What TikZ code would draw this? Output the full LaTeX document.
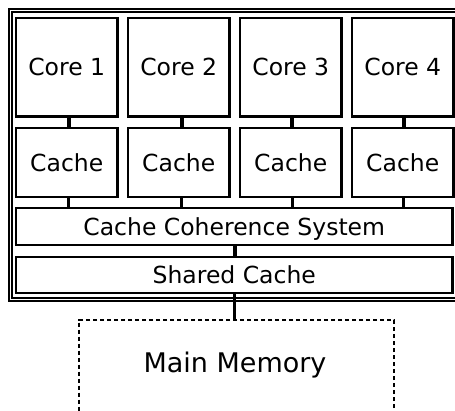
\documentclass[tikz,border=0pt]{standalone}
\usepackage{fontspec}
\setmainfont{DejaVu Sans}
\begin{document}
\begin{tikzpicture}[x=1pt,y=-1pt,
  box/.style={draw=black, line width=2.2pt, fill=white, inner sep=0pt,
    font=\fontsize{23.5}{28}\selectfont, text height=17.1pt, text depth=0pt},
  memorybox/.style={draw=black, line width=2pt, dash pattern=on 4.5pt off 2.5pt,
    inner sep=0pt},
  frame/.style={draw=black, line width=1.5pt, double, double distance=1.8pt},
  link/.style={draw=black, line width=4pt},
  thinlink/.style={draw=black, line width=3.2pt}]
\useasboundingbox (0,0) rectangle (455,410);
\clip (0,0) rectangle (455,410);

% outer package frame
\path[frame] (10.5,10.5) rectangle (458.5,299.5);

% cores and their private caches
\foreach \i in {1,...,4} {
  \pgfmathsetmacro{\cx}{66.75+112*(\i-1)}
  \node[box, minimum width=101.5pt, minimum height=98.7pt] (core\i) at (\cx,67.15) {Core \i};
  \node[box, minimum width=101.5pt, minimum height=69pt] (cache\i) at (\cx,162.5) {Cache};
}

\node[box, minimum width=436.5pt, minimum height=37pt] (coh) at (234.25,226.5) {Cache Coherence System};
\node[box, minimum width=436.5pt, minimum height=36pt] (shared) at (234.25,275) {Shared Cache};

% main memory (extends below the picture)
\node[memorybox, minimum width=314.5pt, minimum height=110pt, anchor=north] (mem) at (236.25,318.5) {};
\node[font=\fontsize{27}{32}\selectfont, anchor=base, inner sep=0pt] (memtext) at (235,372) {Main Memory};

% interconnects
\foreach \i/\dx in {1/2, 2/3, 3/1.5, 4/1} {
  \draw[link] ([xshift=\dx pt]core\i.south) -- ([xshift=\dx pt]cache\i.north);
  \draw[thinlink] ([xshift=\dx pt]cache\i.south) -- ([xshift=\dx pt]cache\i.south |- coh.north);
}
\draw[thinlink] ([xshift=0.75pt]coh.south) -- ([xshift=0.75pt]shared.north);
\draw[thinlink] (shared.south) -- (shared.south |- mem.north);
\end{tikzpicture}
\end{document}
